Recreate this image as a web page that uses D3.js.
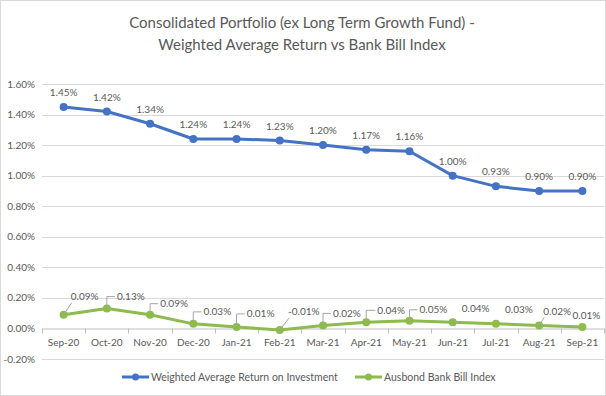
<!DOCTYPE html>
<html>
<head>
<meta charset="utf-8">
<script src="https://cdn.jsdelivr.net/npm/d3@7"></script>
<style>
	body { margin: 0; background: #fff; }
	text { font-family: Lato, 'Open Sans', sans-serif; fill: #595959; }
</style>
</head>
<body>
<div id="chart"></div>
<script>
// chart data
const months = ['Sep-20', 'Oct-20', 'Nov-20', 'Dec-20', 'Jan-21', 'Feb-21', 'Mar-21', 'Apr-21', 'May-21', 'Jun-21', 'Jul-21', 'Aug-21', 'Sep-21']
const weightedReturn = [1.45, 1.42, 1.34, 1.24, 1.24, 1.23, 1.20, 1.17, 1.16, 1.00, 0.93, 0.90, 0.90]
const bankBill = [0.09, 0.13, 0.09, 0.03, 0.01, -0.01, 0.02, 0.04, 0.05, 0.04, 0.03, 0.02, 0.01]
const yTicks = [-0.2, 0, 0.2, 0.4, 0.6, 0.8, 1.0, 1.2, 1.4, 1.6]
const titleLines = ['Consolidated Portfolio (ex Long Term Growth Fund) -', 'Weighted Average Return vs Bank Bill Index']

// where the green data labels sit relative to their point, and what kind of leader line
const bankLabelOffsets = [
	{dx: 21, dy: -18, leader: 'diag'},
	{dx: 24, dy: -12, leader: 'elbow'},
	{dx: 24, dy: -11, leader: 'elbow'},
	{dx: 24, dy: -12, leader: 'elbow'},
	{dx: 24, dy: -13, leader: 'elbow'},
	{dx: 24, dy: -18, leader: 'diag'},
	{dx: 24, dy: -12, leader: 'elbow'},
	{dx: 25, dy: -12, leader: 'elbow'},
	{dx: 24, dy: -11, leader: 'elbow'},
	{dx: 23, dy: -14, leader: 'none'},
	{dx: 23, dy: -14, leader: 'none'},
	{dx: 18, dy: -14, leader: 'diag'},
	{dx: 4, dy: -11, leader: 'none'}
]

const width = 606, height = 396
const margin = {top: 84, right: 2, bottom: 37, left: 42}
const BLUE = '#4472C4', GREEN = '#8DBB4E', GRID = '#D9D9D9'

const svg = d3.select('#chart')
	.append('svg')
	.attr('width', width)
	.attr('height', height)

// outer border of the chart
svg.append('rect')
	.attr('x', 0.5).attr('y', 0.5)
	.attr('width', width - 1).attr('height', height - 1)
	.attr('fill', '#fff')
	.attr('stroke', '#D9D9D9')

// title
svg.append('text')
	.attr('text-anchor', 'middle')
	.attr('font-size', 15)
	.selectAll('tspan')
	.data(titleLines)
	.enter()
	.append('tspan')
	.attr('x', width / 2 - 1)
	.attr('y', (d, i) => 28 + i * 22)
	.text(d => d)

const x = d3.scaleBand()
	.domain(months)
	.range([margin.left, width - margin.right])

const y = d3.scaleLinear()
	.domain([-0.2, 1.6])
	.range([height - margin.bottom, margin.top])

const cx = m => x(m) + x.bandwidth() / 2
const fmt = v => v.toFixed(2) + '%'

// gridlines
svg.append('g')
	.selectAll('line')
	.data(yTicks.filter(t => t !== 0))
	.enter()
	.append('line')
	.attr('x1', margin.left)
	.attr('x2', width - margin.right)
	.attr('y1', d => Math.round(y(d)) + 0.5)
	.attr('y2', d => Math.round(y(d)) + 0.5)
	.attr('stroke', GRID)

// y axis labels
svg.append('g')
	.selectAll('text')
	.data(yTicks)
	.enter()
	.append('text')
	.attr('x', 35)
	.attr('y', d => y(d) + 3.5)
	.attr('text-anchor', 'end')
	.attr('font-size', 10)
	.text(d => d.toFixed(2) + '%')

// zero axis with category ticks
const xAxis = d3.axisBottom(x).tickSize(0).tickPadding(10)
const gx = svg.append('g')
	.attr('transform', `translate(0,${Math.round(y(0)) + 0.5})`)
	.call(xAxis)
gx.select('.domain').attr('stroke', '#BFBFBF')
gx.selectAll('text')
	.attr('font-size', 10)
	.attr('fill', '#595959')
	.style('font-family', 'Lato, sans-serif')
gx.selectAll('.boundary')
	.data(d3.range(months.length + 1))
	.enter()
	.append('line')
	.attr('class', 'boundary')
	.attr('x1', i => Math.round(margin.left + i * x.step()) + 0.5)
	.attr('x2', i => Math.round(margin.left + i * x.step()) + 0.5)
	.attr('y1', 0)
	.attr('y2', 5)
	.attr('stroke', '#BFBFBF')

const line = d3.line()
	.x((d, i) => cx(months[i]))
	.y(d => y(d))

// series lines and markers
const series = [
	{values: weightedReturn, colour: BLUE},
	{values: bankBill, colour: GREEN}
]
series.forEach(s => {
	svg.append('path')
		.datum(s.values)
		.attr('d', line)
		.attr('fill', 'none')
		.attr('stroke', s.colour)
		.attr('stroke-width', 3)
		.attr('stroke-linejoin', 'round')
	svg.append('g')
		.selectAll('circle')
		.data(s.values)
		.enter()
		.append('circle')
		.attr('cx', (d, i) => cx(months[i]))
		.attr('cy', d => y(d))
		.attr('r', 4)
		.attr('fill', s.colour)
})

// blue data labels above the points
svg.append('g')
	.selectAll('text')
	.data(weightedReturn)
	.enter()
	.append('text')
	.attr('x', (d, i) => cx(months[i]))
	.attr('y', d => y(d) - 11)
	.attr('text-anchor', 'middle')
	.attr('font-size', 10)
	.text(fmt)

// green data labels with leader lines
const bankLabels = svg.append('g')
bankBill.forEach((v, i) => {
	const px = cx(months[i]), py = y(v)
	const o = bankLabelOffsets[i]
	const lx = px + o.dx, ly = py + o.dy
	const txt = bankLabels.append('text')
		.attr('x', lx)
		.attr('y', ly + 3.5)
		.attr('text-anchor', 'middle')
		.attr('font-size', 10)
		.text(fmt(v))
	const w = txt.node().getComputedTextLength()
	const left = lx - w / 2 - 2
	if (o.leader === 'elbow') {
		bankLabels.append('path')
			.attr('d', `M${px},${py - 3}V${ly}H${left}`)
			.attr('fill', 'none')
			.attr('stroke', '#A6A6A6')
	} else if (o.leader === 'diag') {
		bankLabels.append('path')
			.attr('d', `M${px},${py}L${left + 3},${ly + 6}`)
			.attr('fill', 'none')
			.attr('stroke', '#A6A6A6')
	}
})

// legend
const legendItems = [
	{name: 'Weighted Average Return on Investment', colour: BLUE, x: 122},
	{name: 'Ausbond Bank Bill Index', colour: GREEN, x: 355}
]
const legend = svg.append('g').attr('transform', 'translate(0,377)')
legendItems.forEach(d => {
	legend.append('line')
		.attr('x1', d.x).attr('x2', d.x + 27)
		.attr('y1', 0).attr('y2', 0)
		.attr('stroke', d.colour)
		.attr('stroke-width', 3)
	legend.append('circle')
		.attr('cx', d.x + 13.5).attr('cy', 0).attr('r', 3.5)
		.attr('fill', d.colour)
	legend.append('text')
		.attr('x', d.x + 29)
		.attr('y', 3.5)
		.attr('font-size', 10.5)
		.text(d.name)
})
</script>
</body>
</html>
